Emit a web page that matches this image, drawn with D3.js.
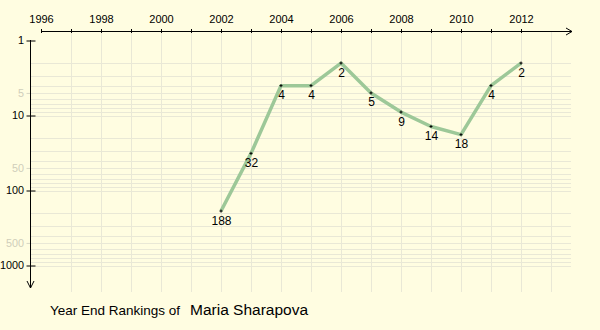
<!DOCTYPE html>
<html><head><meta charset="utf-8">
<script src="https://cdn.jsdelivr.net/npm/d3@7"></script>
<style>html,body{margin:0;padding:0;background:#fffde1;}svg{display:block;}</style>
</head><body>
<svg id="c" width="600" height="330"></svg>
<script>
const years = [2002, 2003, 2004, 2005, 2006, 2007, 2008, 2009, 2010, 2011, 2012];
const ranks = [188, 32, 4, 4, 2, 5, 9, 14, 18, 4, 2];
const xTickYears = [1996, 1998, 2000, 2002, 2004, 2006, 2008, 2010, 2012];
const yMajorTicks = [1, 10, 100, 1000];
const yMinorLabels = [5, 50, 500];
const titleLead = "Year End Rankings of";
const titleName = "Maria Sharapova";

const FONT = "Liberation Sans, Arial, sans-serif";
const svg = d3.select("#c");
svg.append("rect").attr("width", 600).attr("height", 330).attr("fill", "#fffde1");

const x = d3.scaleLinear().domain([1996, 2012]).range([41, 521]);
const y = d3.scaleLog().domain([1, 1000]).range([40.5, 265.5]);

const axisY = 31, axisX = 30.5;
const grid = svg.append("g").attr("stroke", "#e9e8d6").attr("stroke-width", 1);
d3.range(1997, 2019).forEach(yr => {
  const px = Math.round(x(yr)) + 0.5;
  if (px > 575) return;
  grid.append("line").attr("x1", px).attr("x2", px).attr("y1", axisY).attr("y2", 292);
});
const gridVals = [];
[1, 10, 100, 1000].forEach(d => { for (let k = 1; k <= 9; k++) { const v = d * k; if (v <= 1000 && v > 1) gridVals.push(v); } });
gridVals.forEach(v => {
  const py = Math.round(y(v)) + 0.5;
  grid.append("line").attr("x1", axisX).attr("x2", 571).attr("y1", py).attr("y2", py);
});

// X axis (top)
const xAxis = d3.axisTop(x).tickValues(xTickYears).tickFormat(d3.format("d")).tickSize(2).tickPadding(6);
const gx = svg.append("g").attr("transform", `translate(0,${axisY})`).call(xAxis);
gx.select(".domain").remove();
gx.selectAll("text").attr("font-family", FONT).attr("font-size", 11).attr("fill", "#000");
gx.selectAll(".tick line").attr("y1", 2).attr("stroke", "#000");
d3.range(1997, 2013, 2).forEach(yr => {
  const px = Math.round(x(yr)) + 0.5;
  svg.append("line").attr("x1", px).attr("x2", px).attr("y1", axisY - 2).attr("y2", axisY + 2).attr("stroke", "#000");
});
svg.append("line").attr("x1", 41).attr("x2", 572).attr("y1", axisY + 0.5).attr("y2", axisY + 0.5).attr("stroke", "#000");
svg.append("path").attr("d", `M566,${axisY - 3} L572,${axisY + 0.5} L566,${axisY + 4}`).attr("fill", "none").attr("stroke", "#000");

// Y axis (left)
const yAxis = d3.axisLeft(y).tickValues(yMajorTicks).tickFormat(d3.format("d")).tickSize(4).tickPadding(2.5);
const gy = svg.append("g").attr("transform", `translate(${axisX},0)`).call(yAxis);
gy.select(".domain").remove();
gy.selectAll(".tick line").attr("x2", 5).attr("x1", -4).attr("stroke", "#000");
gy.selectAll("text").attr("font-family", FONT).attr("font-size", 10.8).attr("fill", "#000");
const gym = svg.append("g").attr("transform", `translate(${axisX},0)`)
  .call(d3.axisLeft(y).tickValues(yMinorLabels).tickFormat(d3.format("d")).tickSize(4).tickPadding(2.5));
gym.select(".domain").remove();
gym.selectAll(".tick line").attr("stroke", "#d8d7c4");
gym.selectAll("text").attr("font-family", FONT).attr("font-size", 10.8).attr("fill", "#cfceba");
svg.append("line").attr("x1", axisX).attr("x2", axisX).attr("y1", 40).attr("y2", 288).attr("stroke", "#000");
svg.append("path").attr("d", `M${axisX - 3.5},281 L${axisX},288 L${axisX + 3.5},281`).attr("fill", "none").attr("stroke", "#000");

// data line
const data = years.map((yr, i) => ({ yr, r: ranks[i] }));
svg.append("path").datum(data)
  .attr("d", d3.line().x(d => x(d.yr)).y(d => y(d.r)))
  .attr("fill", "none").attr("stroke", "#9dc898").attr("stroke-width", 3.5).attr("stroke-linejoin", "round");

const pts = svg.append("g").attr("stroke", "#000").attr("stroke-width", 1);
data.forEach(d => {
  const px = x(d.yr), py = y(d.r);
  pts.append("line").attr("x1", px - 1.5).attr("x2", px + 1.5).attr("y1", py).attr("y2", py);
  pts.append("line").attr("x1", px).attr("x2", px).attr("y1", py - 1.5).attr("y2", py + 1.5);
});

svg.append("g").selectAll("text").data(data).join("text")
  .attr("x", d => x(d.yr) + 0.5).attr("y", d => y(d.r) + 13.5)
  .attr("text-anchor", "middle")
  .attr("font-family", FONT).attr("font-size", 12).attr("fill", "#000")
  .text(d => d.r);

// title
svg.append("text").attr("x", 50).attr("y", 315).attr("font-family", FONT).attr("font-size", 13.5).attr("fill", "#000").text(titleLead);
svg.append("text").attr("x", 190).attr("y", 315).attr("font-family", FONT).attr("font-size", 15.5).attr("fill", "#000").text(titleName);
</script>
</body></html>
